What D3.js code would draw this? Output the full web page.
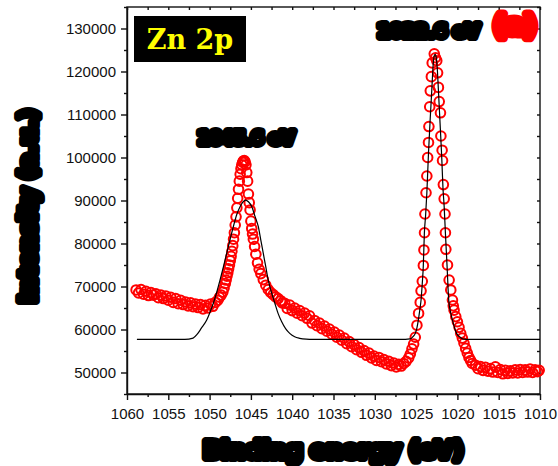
<!DOCTYPE html>
<html>
<head>
<meta charset="utf-8">
<script src="https://cdn.jsdelivr.net/npm/d3@7"></script>
<style>
  html, body { margin: 0; padding: 0; background: #fff; }
  svg { display: block; }
</style>
</head>
<body>
<div id="chart"></div>
<script>
const scanPoints = [
  [1058.9, 69200], [1058.6, 68500], [1058.3, 69300], [1058.0, 68200], [1057.7, 68900],
  [1057.4, 67900], [1057.1, 68600], [1056.8, 68000], [1056.5, 68300], [1056.2, 67400],
  [1055.9, 68000], [1055.6, 67200], [1055.3, 67800], [1055.0, 66800], [1054.7, 67500],
  [1054.4, 66300], [1054.1, 67200], [1053.8, 66000], [1053.5, 66800], [1053.2, 65800],
  [1052.9, 66400], [1052.6, 65500], [1052.3, 66200], [1052.0, 65300], [1051.7, 65900],
  [1051.4, 65100], [1051.1, 65800], [1050.8, 64800], [1050.5, 65600], [1050.2, 65000],
  [1049.9, 65900], [1049.6, 65400], [1049.3, 66300], [1049.0, 66800], [1048.8, 67500],
  [1048.6, 68000], [1048.4, 68700], [1048.25, 69600], [1048.1, 70700], [1048.0, 71500],
  [1047.9, 72400], [1047.8, 73200], [1047.7, 74100], [1047.6, 75000], [1047.5, 76000],
  [1047.4, 77000], [1047.3, 78200], [1047.2, 79500], [1047.1, 81000], [1047.0, 82500],
  [1046.9, 84300], [1046.8, 86200], [1046.7, 88300], [1046.6, 90500], [1046.5, 92600],
  [1046.4, 94500], [1046.3, 96100], [1046.2, 97400], [1046.1, 98300], [1046.0, 98900],
  [1045.9, 99200], [1045.8, 99300], [1045.7, 99000], [1045.6, 98300], [1045.5, 96500],
  [1045.4, 94500], [1045.3, 91500], [1045.2, 89500], [1045.1, 87800], [1045.0, 85200],
  [1044.9, 83500], [1044.8, 82200], [1044.7, 81000], [1044.55, 79300], [1044.4, 77500],
  [1044.2, 75500], [1044.0, 74000], [1043.8, 73000], [1043.5, 71600], [1043.2, 70300],
  [1042.9, 69300], [1042.6, 68600], [1042.3, 68100], [1042.0, 67600], [1041.7, 67200],
  [1041.4, 66700], [1041.2, 66200], [1040.9, 66100], [1040.6, 64900], [1040.3, 65700],
  [1040.0, 64400], [1039.7, 65000], [1039.4, 63800], [1039.1, 64400], [1038.8, 63200],
  [1038.5, 63800], [1038.2, 62600], [1037.9, 63200], [1037.6, 61500], [1037.3, 62100],
  [1037.0, 60900], [1036.7, 61500], [1036.4, 60200], [1036.1, 60800], [1035.8, 59600],
  [1035.5, 60100], [1035.2, 58900], [1034.9, 59400], [1034.6, 58200], [1034.3, 58700],
  [1034.0, 57500], [1033.7, 58000], [1033.4, 56700], [1033.1, 57200], [1032.8, 56000],
  [1032.5, 56500], [1032.2, 55300], [1031.9, 55800], [1031.6, 54700], [1031.3, 55100],
  [1031.0, 54000], [1030.7, 54500], [1030.4, 53400], [1030.1, 53800], [1029.8, 52800],
  [1029.5, 53500], [1029.2, 52500], [1028.9, 53000], [1028.6, 52000], [1028.3, 52600],
  [1028.0, 51600], [1027.7, 52200], [1027.4, 51300], [1027.1, 51900], [1026.8, 51500],
  [1026.5, 52100], [1026.2, 52600], [1025.9, 53400], [1025.7, 54300], [1025.5, 55500],
  [1025.3, 56600], [1025.1, 58200], [1024.9, 61000], [1024.7, 63750], [1024.5, 66300],
  [1024.4, 69000], [1024.25, 71200], [1024.12, 74900], [1024.05, 78500], [1023.98, 82500],
  [1023.93, 86860], [1023.8, 91800], [1023.7, 95700], [1023.6, 100000], [1023.5, 103500],
  [1023.45, 107200], [1023.35, 111800], [1023.28, 115500], [1023.15, 118800], [1023.05, 122000],
  [1022.8, 124100], [1022.65, 123200], [1022.5, 122500], [1022.4, 119700], [1022.3, 116300],
  [1022.2, 113000], [1022.05, 110400], [1022.0, 105000], [1021.85, 101700], [1021.8, 99300],
  [1021.7, 93700], [1021.6, 90400], [1021.5, 86860], [1021.45, 82500], [1021.4, 78650],
  [1021.2, 75000], [1021.0, 71500], [1020.8, 69200], [1020.6, 66860], [1020.5, 65500],
  [1020.4, 64500], [1020.2, 63000], [1020.0, 61800], [1019.8, 60500], [1019.6, 59100],
  [1019.4, 58000], [1019.2, 56800], [1019.0, 55600], [1018.8, 54500], [1018.6, 53500],
  [1018.4, 52800], [1018.2, 52100], [1017.8, 51700], [1017.5, 50900], [1017.2, 51400],
  [1016.9, 50500], [1016.6, 51200], [1016.3, 50300], [1016.0, 50900], [1015.7, 50100],
  [1015.4, 51300], [1015.1, 50000], [1014.8, 50700], [1014.5, 49700], [1014.2, 50500],
  [1013.9, 49800], [1013.6, 50400], [1013.3, 49900], [1013.0, 50600], [1012.7, 49900],
  [1012.4, 50700], [1012.1, 50000], [1011.8, 50600], [1011.5, 50100], [1011.2, 50800],
  [1010.9, 50000], [1010.6, 50600], [1010.3, 50200], [1010.1, 50500]
];

// peak fit envelope (black line)
const fitPoints = [
  [1058.8, 57700], [1053.0, 57700], [1052.0, 58000], [1051.5, 58900], [1051.0, 60300],
  [1050.35, 62200], [1050.0, 63800], [1049.55, 66100], [1049.1, 68900], [1048.74, 71500],
  [1048.3, 74800], [1047.93, 77700], [1047.5, 81100], [1047.13, 83900], [1046.7, 86800],
  [1046.3, 88600], [1045.95, 89700], [1045.63, 90100], [1045.3, 89700], [1044.9, 88600],
  [1044.5, 86300], [1044.1, 83900], [1043.8, 80800], [1043.5, 77700], [1043.2, 74600],
  [1042.9, 71500], [1042.5, 68600], [1042.1, 66100], [1041.7, 63700], [1041.27, 61800],
  [1040.8, 60200], [1040.3, 59100], [1039.7, 58300], [1039.1, 57950], [1038.3, 57750],
  [1037.5, 57700], [1026.3, 57700], [1025.74, 57800], [1025.4, 58300], [1025.1, 59100],
  [1024.9, 60400], [1024.73, 62200], [1024.55, 64600], [1024.4, 66860], [1024.25, 70800],
  [1024.13, 74700], [1024.0, 82400], [1023.85, 86500], [1023.7, 91700], [1023.5, 101000],
  [1023.3, 108700], [1023.1, 115700], [1022.95, 121100], [1022.8, 123700], [1022.7, 124000],
  [1022.6, 123600], [1022.45, 121100], [1022.3, 115700], [1022.1, 108000], [1021.9, 100200],
  [1021.75, 93000], [1021.6, 88500], [1021.45, 82400], [1021.25, 74700], [1021.05, 66860],
  [1020.8, 63800], [1020.6, 62200], [1020.1, 59100], [1019.6, 58100], [1019.3, 57750],
  [1018.5, 57700], [1010.0, 57700]
];

const xTicks = [1060, 1055, 1050, 1045, 1040, 1035, 1030, 1025, 1020, 1015, 1010];
const yTicks = [50000, 60000, 70000, 80000, 90000, 100000, 110000, 120000, 130000];
const peakLabels = [
  { text: '1045.6 eV', e: 1045.6, i: 103200, size: 17 },
  { text: '1022.6 eV', e: 1023.5, i: 128000, size: 18 }
];

const W = 558, H = 466;
const m = { left: 127, right: 540, top: 7, bottom: 394 };

const svg = d3.select('#chart').append('svg').attr('width', W).attr('height', H)
  .style('font-family', '"Liberation Sans", Arial, sans-serif');

const x = d3.scaleLinear().domain([1060, 1010]).range([m.left, m.right]);
const y = d3.scaleLinear().domain([45000, 135000]).range([m.bottom, m.top]);

const minorX = d3.range(1057.5, 1010, -5);
const minorY = d3.range(45000, 135001, 10000);

// axes: bottom / left with labels, outward ticks
const fmt = d3.format('d');
const tickFont = g => g.selectAll('text').attr('font-size', 15).attr('fill', '#111')
  .style('font-family', '"Liberation Sans", Arial, sans-serif');

svg.append('g').attr('transform', `translate(0,${m.bottom})`)
  .call(d3.axisBottom(x).tickValues(xTicks).tickFormat(fmt).tickSize(6).tickSizeOuter(0).tickPadding(8))
  .call(tickFont);
svg.append('g').attr('transform', `translate(0,${m.bottom})`)
  .call(d3.axisBottom(x).tickValues(minorX).tickFormat('').tickSize(3).tickSizeOuter(0))
  .call(g => g.select('.domain').remove());

svg.append('g').attr('transform', `translate(${m.left},0)`)
  .call(d3.axisLeft(y).tickValues(yTicks).tickFormat(fmt).tickSize(6).tickSizeOuter(0).tickPadding(5))
  .call(tickFont);
svg.append('g').attr('transform', `translate(${m.left},0)`)
  .call(d3.axisLeft(y).tickValues(minorY).tickFormat('').tickSize(3).tickSizeOuter(0))
  .call(g => g.select('.domain').remove());

// mirrored inward ticks on top / right
svg.append('g').attr('transform', `translate(0,${m.top})`)
  .call(d3.axisBottom(x).tickValues(xTicks.concat(minorX)).tickFormat('').tickSize(3).tickSizeOuter(0))
  .call(g => g.select('.domain').remove());
svg.append('g').attr('transform', `translate(${m.right},0)`)
  .call(d3.axisLeft(y).tickValues(yTicks.concat(minorY)).tickFormat('').tickSize(3).tickSizeOuter(0))
  .call(g => g.select('.domain').remove());

svg.selectAll('.domain, .tick line').attr('stroke', '#111').attr('stroke-width', 1.4);

// frame
svg.append('rect').attr('x', m.left).attr('y', m.top)
  .attr('width', m.right - m.left).attr('height', m.bottom - m.top)
  .attr('fill', 'none').attr('stroke', '#111').attr('stroke-width', 1.4);

const plot = svg.append('g');

// measured points
plot.selectAll('circle.pt').data(scanPoints).enter().append('circle')
  .attr('class', 'pt')
  .attr('cx', d => x(d[0])).attr('cy', d => y(d[1])).attr('r', 4.8)
  .attr('fill', 'none').attr('stroke', '#ff0000').attr('stroke-width', 2);

// fit
plot.append('path').datum(fitPoints)
  .attr('d', d3.line().x(d => x(d[0])).y(d => y(d[1])).curve(d3.curveMonotoneX))
  .attr('fill', 'none').attr('stroke', '#000').attr('stroke-width', 1.2);

// Zn 2p badge
svg.append('rect').attr('x', 134).attr('y', 16).attr('width', 112).attr('height', 46).attr('fill', '#000');
svg.append('text').attr('x', 190).attr('y', 49).attr('text-anchor', 'middle')
  .attr('font-family', '"DejaVu Serif", serif').attr('font-weight', 'bold').attr('font-size', 27)
  .attr('fill', '#ffff00').text('Zn 2p');

// heavy outlined labels
function blob(sel, color, sw) {
  return sel.attr('font-family', '"DejaVu Sans", sans-serif').attr('font-weight', 'bold')
    .attr('fill', color).attr('stroke', color).attr('stroke-width', sw)
    .attr('stroke-linejoin', 'round').attr('paint-order', 'stroke');
}

peakLabels.forEach(p => {
  blob(svg.append('text'), '#000', 8)
    .attr('x', x(p.e)).attr('y', y(p.i)).attr('text-anchor', 'middle')
    .attr('font-size', p.size).text(p.text);
});

blob(svg.append('text'), '#ff0000', 9)
  .attr('x', 515).attr('y', 34).attr('text-anchor', 'middle').attr('font-size', 27).text('(a)');

blob(svg.append('text'), '#000', 8)
  .attr('x', (m.left + m.right) / 2).attr('y', 458).attr('text-anchor', 'middle')
  .attr('font-size', 23).text('Binding energy (eV)');

blob(svg.append('text'), '#000', 8)
  .attr('transform', `translate(36,206) rotate(-90)`).attr('text-anchor', 'middle')
  .attr('font-size', 23).text('Intensity (a.u.)');
</script>
</body>
</html>
